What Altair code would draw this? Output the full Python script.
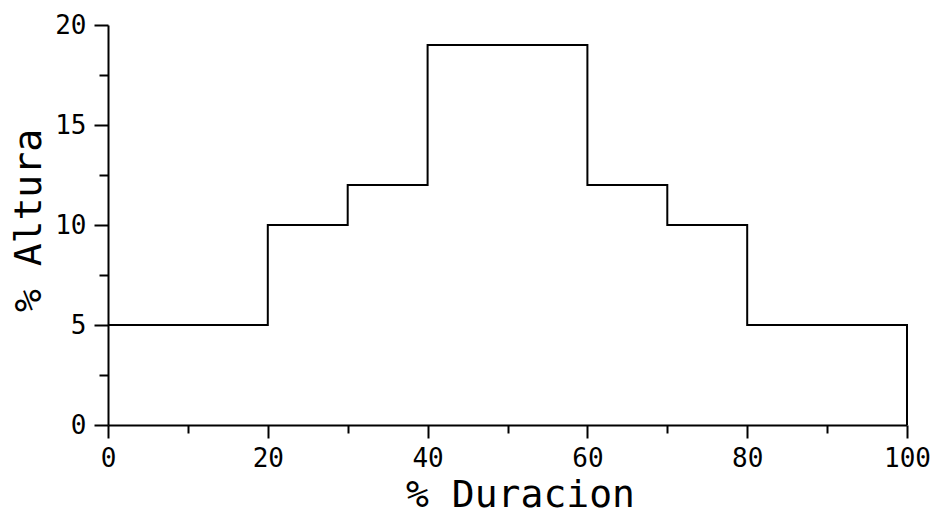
import altair as alt
import pandas as pd

# Step profile: % duration breakpoints and % height
duracion = [0, 20, 30, 40, 60, 70, 80, 100, 100]
altura = [5, 10, 12, 19, 12, 10, 5, 5, 0]

x_ticks = [0, 10, 20, 30, 40, 50, 60, 70, 80, 90, 100]
y_ticks = [0, 2.5, 5, 7.5, 10, 12.5, 15, 17.5, 20]

df = pd.DataFrame({"duracion": duracion, "altura": altura, "orden": list(range(len(duracion)))})

FONT = "DejaVu Sans Mono"

chart = alt.Chart(df).mark_line(
    interpolate="step-after", color="black", strokeWidth=2
).encode(
    x=alt.X(
        "duracion:Q",
        scale=alt.Scale(domain=[0, 100], nice=False, zero=False),
        axis=alt.Axis(
            title="% Duracion",
            values=x_ticks,
            labelExpr="datum.value % 20 === 0 ? datum.label : ''",
            tickSize={"condition": {"test": "datum.value % 20 === 0", "value": 13}, "value": 8},
            grid=False,
            domainColor="black",
            domainWidth=2,
            tickColor="black",
            tickWidth=2,
            labelColor="black",
            labelFont=FONT,
            labelFontSize=26,
            labelPadding=7,
            labelFlush=False,
            labelOverlap=False,
            titleFont=FONT,
            titleFontSize=38,
            titleFontWeight="normal",
            titleColor="black",
            titlePadding=5,
            titleX=412,
            titleAlign="center",
        ),
    ),
    y=alt.Y(
        "altura:Q",
        scale=alt.Scale(domain=[0, 20], nice=False),
        axis=alt.Axis(
            title="% Altura",
            values=y_ticks,
            labelExpr="datum.value % 5 === 0 ? datum.label : ''",
            tickSize={"condition": {"test": "datum.value % 5 === 0", "value": 14}, "value": 9},
            grid=False,
            domainColor="black",
            domainWidth=2,
            tickColor="black",
            tickWidth=2,
            labelColor="black",
            labelFont=FONT,
            labelFontSize=26,
            labelPadding=8,
            labelFlush=False,
            labelOverlap=False,
            titleFont=FONT,
            titleFontSize=38,
            titleFontWeight="normal",
            titleColor="black",
            titlePadding=6,
            titleY=195,
        ),
    ),
    order="orden:Q",
).properties(
    width=799,
    height=400,
    padding={"left": 100, "top": 17, "right": 25, "bottom": 90},
    autosize=alt.AutoSizeParams(type="none"),
).configure(background="white").configure_view(stroke=None, strokeWidth=0)

chart.save("out.html", embed_options={"renderer": "svg", "actions": False})
